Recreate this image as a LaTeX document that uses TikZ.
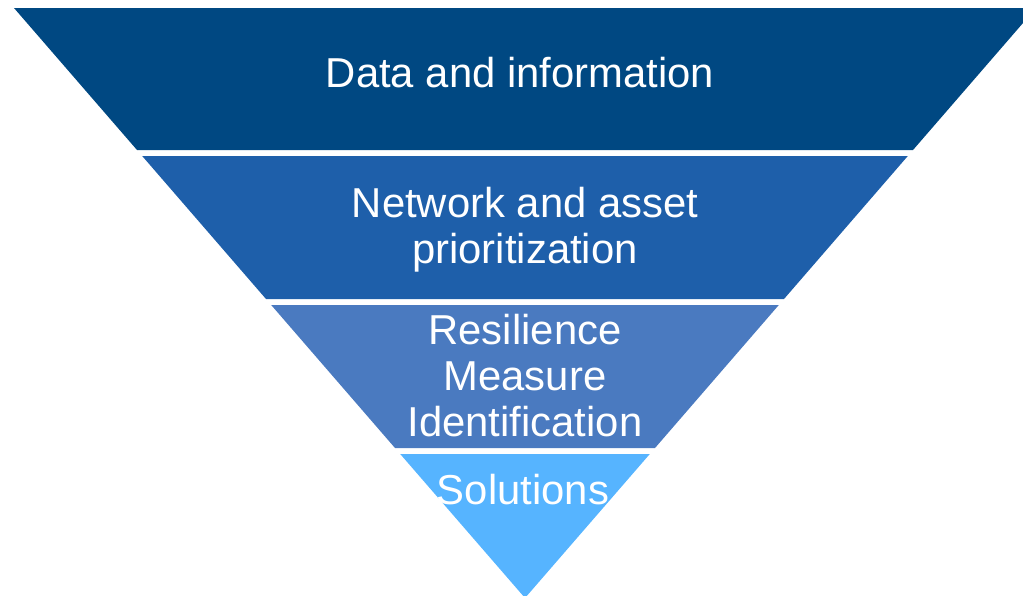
\documentclass[tikz,border=0pt]{standalone}
\usepackage{fontspec}
\setmainfont{Liberation Sans}
\definecolor{bandA}{RGB}{0,72,130}
\definecolor{bandB}{RGB}{30,95,170}
\definecolor{bandC}{RGB}{74,122,192}
\definecolor{bandD}{RGB}{86,180,255}
\begin{document}
\begin{tikzpicture}
		[x=0.02cm, y=-0.02cm,
		every node/.style={text=white, font=\fontsize{23.8}{26.1}\selectfont, align=center, inner sep=0pt, anchor=base}]
		\useasboundingbox (0,0) rectangle (1023,595);
		\clip (0,0) rectangle (1023,595);
		
		% funnel bands, top to bottom
		\fill[bandA] (14,8) -- (1036,8) -- (913,150) -- (137,150) -- cycle;
		\fill[bandB] (142.2,156) -- (907.8,156) -- (784,299) -- (266,299) -- cycle;
		\fill[bandC] (271.2,305) -- (778.8,305) -- (655,448) -- (395,448) -- cycle;
		\fill[bandD] (400.2,454) -- (649.8,454) -- (525,598) -- cycle;
		
		% base of a node sits on its last line
		\node (data) at (520,87) {Data and information};
		\node (network) at (525,263) {Network and asset\\prioritization};
		\node (resilience) at (525,436) {Resilience\\Measure\\Identification};
		\node (solutions) at (523,504) {Solutions};
		\end{tikzpicture}
\end{document}
